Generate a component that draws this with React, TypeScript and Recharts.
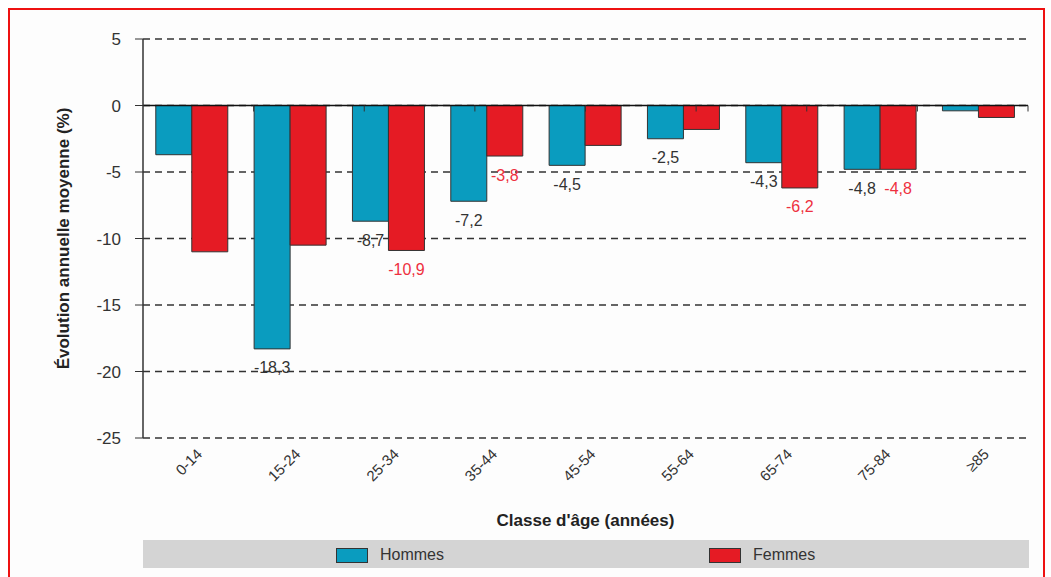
import { BarChart, Bar, XAxis, YAxis, CartesianGrid, ReferenceLine, LabelList, Legend } from 'recharts'

const ageClasses = ['0-14', '15-24', '25-34', '35-44', '45-54', '55-64', '65-74', '75-84', '≥85']
const hommes = [-3.7, -18.3, -8.7, -7.2, -4.5, -2.5, -4.3, -4.8, -0.4]
const femmes = [-11.0, -10.5, -10.9, -3.8, -3.0, -1.8, -6.2, -4.8, -0.9]
// which bars carry a printed value in the original
const hommesLabelled = [false, true, true, true, true, true, true, true, false]
const femmesLabelled = [false, false, true, true, false, false, true, true, false]
const seriesOrder = ['Hommes', 'Femmes']
const yTicks = [5, 0, -5, -10, -15, -20, -25]

const fmt = (v: number) => v.toFixed(1).replace('.', ',')

const data = ageClasses.map((age, i) => ({
  age,
  Hommes: hommes[i],
  Femmes: femmes[i],
  hLabel: hommesLabelled[i] ? fmt(hommes[i]) : '',
  fLabel: femmesLabelled[i] ? fmt(femmes[i]) : '',
}))

const boundaries = ageClasses.slice(1).map((_, i) => i + 1)

const BLUE = '#0a9cbf'
const RED = '#e51b24'
const FONT = '"Liberation Sans", Arial, Helvetica, sans-serif'

const valueLabel = (color: string) => (props: any) => {
  const { x, y, width, height, value } = props
  if (!value) return null
  const bottom = Math.max(Number(y), Number(y) + Number(height))
  return (
    <text x={Number(x) + Number(width) / 2} y={bottom + 19} fill={color} fontSize={16}
      fontFamily={FONT} textAnchor="middle" dominantBaseline="central">
      {value}
    </text>
  )
}

const AgeTick = ({ x, y, payload }: any) => (
  <g transform={`translate(${x + 11},${y + 17})`}>
    <text textAnchor="end" transform="rotate(-45)" fontSize={15} fill="#333" fontFamily={FONT}>
      {payload.value}
    </text>
  </g>
)

const LegendBand = ({ payload }: any) => {
  const lefts = [193, 566]
  const items = [...(payload || [])].sort(
    (a: any, b: any) => seriesOrder.indexOf(a.value) - seriesOrder.indexOf(b.value))
  return (
    <div style={{ position: 'relative', width: 886, height: 28, background: '#d4d4d4', fontFamily: FONT }}>
      {items.map((p: any, i: number) => (
        <div key={p.value} style={{ position: 'absolute', left: lefts[i], top: 6, display: 'flex', alignItems: 'center' }}>
          <span style={{ display: 'inline-block', width: 30, height: 13, background: p.color, border: '1px solid #333' }} />
          <span style={{ marginLeft: 12, fontSize: 16, color: '#333' }}>{p.value}</span>
        </div>
      ))}
    </div>
  )
}

export default function App() {
  return (
    <>
      <div style={{ position: 'absolute', left: 8, top: 8, width: 1037, height: 569, border: '2px solid #ee1111', borderBottom: 'none', boxSizing: 'border-box', background: '#fdfdfd' }} />
      <div style={{ position: 'absolute', left: 0, top: 0 }}>
        <BarChart width={1051} height={577} data={data} barGap={0} barCategoryGap="13%"
          margin={{ top: 39, right: 23, bottom: 49, left: 40 }}>
          <CartesianGrid vertical={false} stroke="#333" strokeDasharray="7 5" strokeWidth={1.4} />
          <XAxis dataKey="age" axisLine={false} tickLine={false} tickSize={0} tickMargin={0} height={90}
            interval={0} tick={<AgeTick />}
            label={{ value: "Classe d'âge (années)", position: 'insideBottom', offset: 2, fontSize: 17, fontWeight: 'bold', fill: '#222', fontFamily: FONT }} />
          <XAxis xAxisId="num" type="number" domain={[0, 9]} hide />
          <YAxis domain={[-25, 5]} ticks={yTicks} width={103} tickSize={8} tickMargin={14}
            axisLine={{ stroke: '#333', strokeWidth: 1.5 }} tickLine={{ stroke: '#333' }}
            tick={{ fontSize: 17, fill: '#333', fontFamily: FONT }}
            label={{ value: 'Évolution annuelle moyenne (%)', angle: -90, position: 'insideLeft', offset: 23, fontSize: 17, fontWeight: 'bold', fill: '#222', fontFamily: FONT, style: { textAnchor: 'middle' } }} />
          <ReferenceLine y={0} stroke="#111" strokeWidth={1.5} />
          {boundaries.map((b) => (
            <ReferenceLine key={b} xAxisId="num" segment={[{ x: b, y: 0 }, { x: b, y: -0.45 }]} stroke="#333" />
          ))}
          <ReferenceLine xAxisId="num" x={9} stroke="#555" strokeWidth={1.5} />
          <Legend layout="vertical" align="center" verticalAlign="middle"
            wrapperStyle={{ left: 143, top: 540, width: 886 }} content={<LegendBand />} />
          <Bar dataKey="Hommes" fill={BLUE} stroke="#333" strokeWidth={1} isAnimationActive={false}>
            <LabelList dataKey="hLabel" content={valueLabel('#333')} />
          </Bar>
          <Bar dataKey="Femmes" fill={RED} stroke="#333" strokeWidth={1} isAnimationActive={false}>
            <LabelList dataKey="fLabel" content={valueLabel('#ee3040')} />
          </Bar>
        </BarChart>
      </div>
    </>
  )
}
